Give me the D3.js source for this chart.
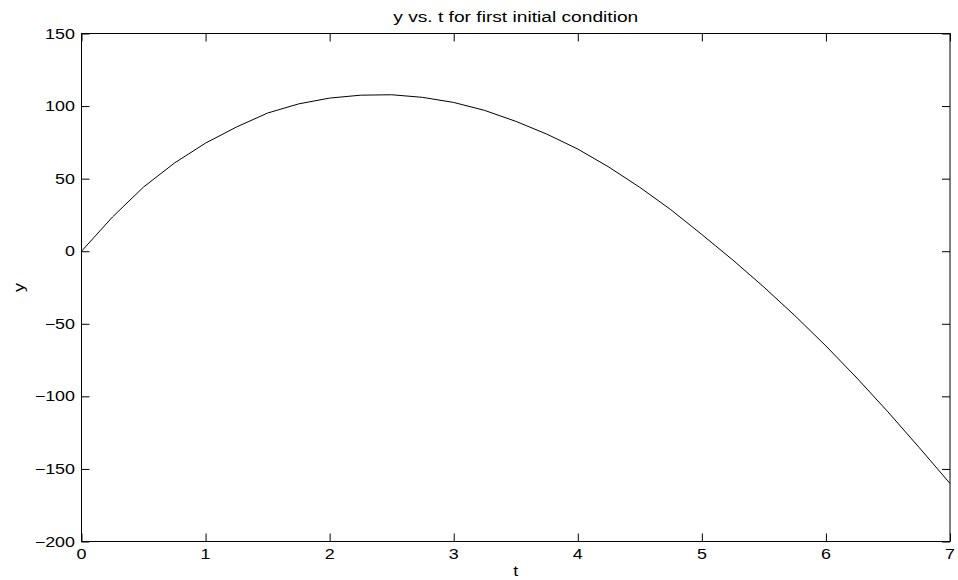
<!DOCTYPE html>
<html>
<head>
<meta charset="utf-8">
<script src="https://cdn.jsdelivr.net/npm/d3@7"></script>
<style>
  body { margin: 0; background: white; }
  svg { display: block; }
  text { font-family: "Liberation Sans", Arial, Helvetica, sans-serif; fill: black; }
</style>
</head>
<body>
<svg id="chart"></svg>
<script>
// values, one point every 0.25 s
const tValues = [0, 0.25, 0.5, 0.75, 1, 1.25, 1.5, 1.75, 2, 2.25, 2.5, 2.75, 3, 3.25, 3.5,
  3.75, 4, 4.25, 4.5, 4.75, 5, 5.25, 5.5, 5.75, 6, 6.25, 6.5, 6.75, 7];
const yValues = [0, 23.6, 44.2, 60.8, 74.5, 85.6, 95.2, 101.5, 105.5, 107.5, 107.8, 106, 102.5, 97, 89.5,
  80.7, 70.4, 58, 44, 28.6, 11.5, -6.1, -24.7, -44.4, -65.3, -87.4, -110.7, -135.1, -160];
const xTicks = [0, 1, 2, 3, 4, 5, 6, 7];
const yTicks = [-200, -150, -100, -50, 0, 50, 100, 150];
const title = "y vs. t for first initial condition";
const xLabel = "t";
const yLabel = "y";

const w = 958;
const h = 580;
const padLeft = 81.5, padRight = 950, padTop = 33.5, padBottom = 541.5;
const stretch = 1.28; // text in the picture is wider than tall

const xScale = d3.scaleLinear().domain([0, 7]).range([padLeft, padRight]);
const yScale = d3.scaleLinear().domain([-200, 150]).range([padBottom, padTop]);
const fmt = d => d < 0 ? "\u2212" + Math.abs(d) : String(d);

const svg = d3.select("#chart").attr("width", w).attr("height", h);

// ticks on all four sides, pointing inwards
svg.append("g").attr("transform", `translate(0,${padBottom})`)
   .call(d3.axisBottom(xScale).tickValues(xTicks).tickSize(-8).tickFormat(""));
svg.append("g").attr("transform", `translate(0,${padTop})`)
   .call(d3.axisTop(xScale).tickValues(xTicks).tickSize(-8).tickFormat(""));
svg.append("g").attr("transform", `translate(${padLeft},0)`)
   .call(d3.axisLeft(yScale).tickValues(yTicks).tickSize(-8).tickFormat(""));
svg.append("g").attr("transform", `translate(${padRight},0)`)
   .call(d3.axisRight(yScale).tickValues(yTicks).tickSize(-8).tickFormat(""));
svg.selectAll(".domain").remove();
svg.selectAll(".tick line").attr("stroke", "black");

svg.append("rect")
   .attr("x", padLeft).attr("y", padTop)
   .attr("width", padRight - padLeft).attr("height", padBottom - padTop)
   .attr("fill", "none").attr("stroke", "black").attr("stroke-width", 1);

// tick labels
svg.selectAll(".xlab")
   .data(xTicks)
   .enter()
   .append("text")
   .attr("class", "xlab")
   .attr("text-anchor", "middle")
   .attr("font-size", 14)
   .attr("transform", d => `translate(${xScale(d)},559) scale(${stretch},1)`)
   .text(fmt);

svg.selectAll(".ylab")
   .data(yTicks)
   .enter()
   .append("text")
   .attr("class", "ylab")
   .attr("text-anchor", "end")
   .attr("font-size", 14)
   .attr("transform", d => `translate(75,${yScale(d) + 5}) scale(${stretch},1)`)
   .text(fmt);

// the curve
const line = d3.line()
   .x((d, i) => xScale(tValues[i]))
   .y(d => yScale(d));

svg.append("path")
   .datum(yValues)
   .attr("d", line)
   .attr("fill", "none")
   .attr("stroke", "black")
   .attr("stroke-width", 1);

svg.append("text")
   .attr("text-anchor", "middle")
   .attr("font-size", 14)
   .attr("transform", `translate(${(padLeft + padRight) / 2},22) scale(1.37,1)`)
   .text(title);

svg.append("text")
   .attr("text-anchor", "middle")
   .attr("font-size", 14)
   .attr("transform", `translate(${(padLeft + padRight) / 2},576) scale(${stretch},1)`)
   .text(xLabel);

svg.append("text")
   .attr("text-anchor", "middle")
   .attr("font-size", 14)
   .attr("transform", `translate(24,${(padTop + padBottom) / 2}) rotate(-90) scale(${stretch},1)`)
   .text(yLabel);
</script>
</body>
</html>
